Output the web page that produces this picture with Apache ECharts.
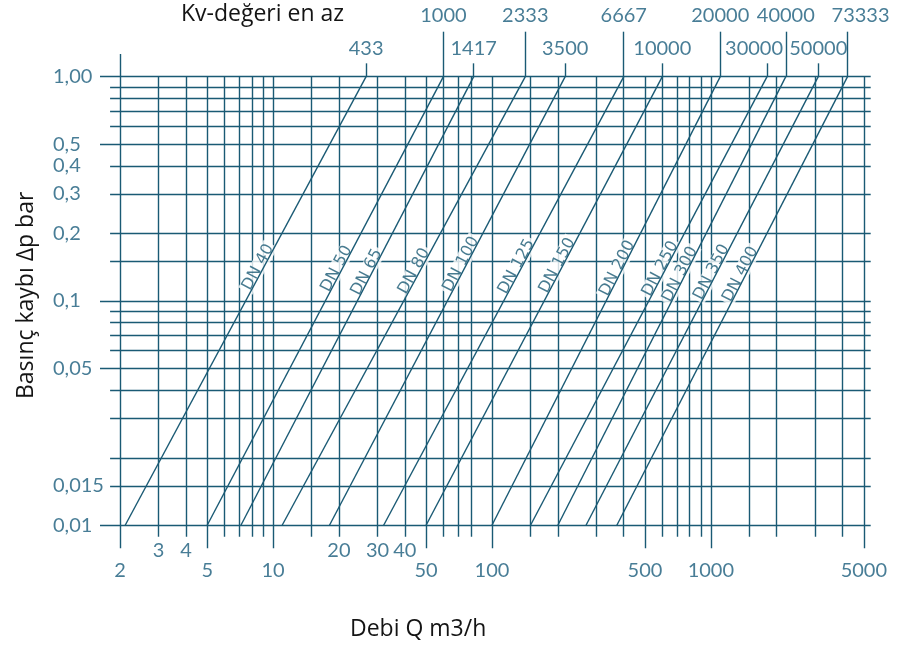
<!DOCTYPE html>
<html><head><meta charset="utf-8">
<script src="https://cdn.jsdelivr.net/npm/echarts@6/dist/echarts.min.js"></script>
<style>html,body{margin:0;padding:0;background:#fff}#c{width:904px;height:648px}</style>
</head><body><div id="c"></div>
<script>
// ---------- data ----------
const dnNames = ['DN 40','DN 50','DN 65','DN 80','DN 100','DN 125','DN 150','DN 200','DN 250','DN 300','DN 350','DN 400'];
const kvValues = [433,1000,1417,2333,3500,6667,10000,20000,30000,40000,50000,73333];
const qAtMinDp = [2.11,5,7.13,11,18.1,32,50,100,150,200,269,372];        // Q (m3/h) at Δp = 0.01 bar
const qAtMaxDp = [26.6,60,82.5,142,216,400,600,1104,1806,2200,3095,4212]; // Q (m3/h) at Δp = 1 bar
const dpMin = 0.01, dpMax = 1;
const xGridValues = [2,3,4,5,6,7,8,9,10,15,20,30,40,50,60,70,80,100,150,200,300,400,500,600,700,800,900,1000,1500,2000,3000,4000,5000];
const xGridLong = [2,5,10,50,100,500,1000,5000];
const yGridValues = [1,0.9,0.8,0.7,0.6,0.5,0.4,0.3,0.2,0.15,0.1,0.09,0.08,0.07,0.06,0.05,0.04,0.03,0.02,0.015,0.01];
const yGridLong = [1,0.5,0.1,0.05,0.01];
const xTickValues = [2,3,4,5,10,20,30,40,50,100,500,1000,5000];
const xTickUpperRow = [3,4,20,30,40];
const yTickValues = [1,0.5,0.4,0.3,0.2,0.1,0.05,0.015,0.01];
const yTickLabels = ['1,00','0,5','0,4','0,3','0,2','0,1','0,05','0,015','0,01'];
const kvUpperRow = [1000,2333,6667,20000,40000,73333];

// ---------- layout / style ----------
const X_MIN = 1.619, X_MAX = 5374, Y_MIN = 0.00768, Y_MAX = 1.587;
const G = {left:100, right:33.3, top:31.7, bottom:97};
const W = 904, H = 648;
const gridW = W - G.left - G.right, gridH = H - G.top - G.bottom;
const LINE = '#1a5a74', TEXT = '#1a5d7c', DARK = '#141414';
const NUM_FONT = 'Lato', NAME_FONT = 'Open Sans';
const vShortBottom = 0.0089, vLongBottom = 0.0079, vTopExtra = 1.262;
const hShortStart = 1.8;
const kvTickTopUpper = 1.587, kvTickTopLower = 1.147;
const kvLabelShift = {30000:-13, 73333:13};
const dnLabelAt = [0.150,0.148,0.143,0.144,0.155,0.151,0.153,0.149,0.148,0.140,0.143,0.140];
const lx = Math.log10;
const pxPerDecX = gridW / lx(X_MAX / X_MIN);
const pxPerDecY = gridH / lx(Y_MAX / Y_MIN);

// grid lines
const gridLines = [];
xGridValues.forEach(v => {
  const bottom = xGridLong.includes(v) ? vLongBottom : vShortBottom;
  const top = v === xGridValues[0] ? vTopExtra : dpMax;
  gridLines.push({coords: [[v, bottom], [v, top]]});
});
yGridValues.forEach(v => {
  const start = yGridLong.includes(v) ? X_MIN : hShortStart;
  gridLines.push({coords: [[start, v], [X_MAX, v]]});
});

const dnLines = dnNames.map((n, i) => ({coords: [[qAtMinDp[i], dpMin], [qAtMaxDp[i], dpMax]]}));
const kvTicks = kvValues.map((k, i) => ({coords: [[qAtMaxDp[i], dpMax], [qAtMaxDp[i], kvUpperRow.includes(k) ? kvTickTopUpper : kvTickTopLower]]}));

const kvLabelData = kvValues.map((k, i) => {
  const up = kvUpperRow.includes(k);
  return {value: [qAtMaxDp[i], up ? kvTickTopUpper : kvTickTopLower], name: String(k),
    label: {offset: [kvLabelShift[k] || 0, up ? -16 : -14.3]}};
});

const xLabelData = xTickValues.map(v => ({value: [v, Y_MIN], name: String(v),
  label: {offset: [0, xTickUpperRow.includes(v) ? 0 : 20]}}));

const yLabelData = yTickValues.map((v, i) => ({value: [X_MIN, v], name: yTickLabels[i]}));

const D = 10.5;
const dnLabelData = dnNames.map((n, i) => {
  const qb = qAtMinDp[i], qt = qAtMaxDp[i];
  const t = lx(dnLabelAt[i] / dpMin) / lx(dpMax / dpMin);
  const q = Math.pow(10, lx(qb) + t * lx(qt / qb));
  const ang = Math.atan2(pxPerDecY * lx(dpMax / dpMin), pxPerDecX * lx(qt / qb));
  return {value: [q, dnLabelAt[i]], name: n,
    label: {rotate: ang * 180 / Math.PI, offset: [-D * Math.sin(ang), -D * Math.cos(ang)]}};
});

const hidden = {color: 'rgba(0,0,0,0)'};
const textSeries = (data, extra) => ({
  type: 'scatter', data, symbolSize: 1, itemStyle: hidden, silent: true, clip: false, z: 4,
  label: Object.assign({show: true, position: 'inside', formatter: p => p.name,
    color: TEXT, fontFamily: NUM_FONT, fontSize: 20}, extra || {})
});

const chart = echarts.init(document.getElementById('c'), null, {renderer: 'canvas'});
chart.setOption({
  animation: false,
  backgroundColor: '#fff',
  title: [
    {text: 'Kv-değeri en az', left: 181, top: 3, padding: 0,
     textStyle: {fontFamily: NAME_FONT, fontSize: 23, fontWeight: 'normal', color: DARK}},
    {text: 'Debi Q m3/h', left: 350, top: 618, padding: 0,
     textStyle: {fontFamily: NAME_FONT, fontSize: 23, fontWeight: 'normal', color: DARK}}
  ],
  grid: {left: G.left, right: G.right, top: G.top, bottom: G.bottom, containLabel: false, outerBoundsMode: 'none'},
  xAxis: {type: 'log', logBase: 10, min: X_MIN, max: X_MAX,
    axisLine: {show: false}, axisTick: {show: false}, axisLabel: {show: false}, splitLine: {show: false}},
  yAxis: {type: 'log', logBase: 10, min: Y_MIN, max: Y_MAX,
    axisLine: {show: false}, axisTick: {show: false}, axisLabel: {show: false}, splitLine: {show: false},
    name: 'Basınç kaybı Δp bar', nameLocation: 'middle', nameRotate: 90, nameGap: 62,
    nameTextStyle: {fontFamily: NAME_FONT, fontSize: 23, color: DARK, padding: [0, 8, 0, 0]}},
  series: [
    {type: 'lines', coordinateSystem: 'cartesian2d', data: gridLines, silent: true, clip: false, z: 1,
     lineStyle: {color: LINE, width: 1.4, opacity: 1, curveness: 0}},
    textSeries(dnLabelData, {fontFamily: 'DejaVu Sans', fontSize: 16, color: LINE, backgroundColor: '#fff', padding: [0, 2], z: 2}),
    {type: 'lines', coordinateSystem: 'cartesian2d', data: dnLines, silent: true, clip: false, z: 5,
     lineStyle: {color: LINE, width: 1.4, opacity: 1, curveness: 0}},
    {type: 'lines', coordinateSystem: 'cartesian2d', data: kvTicks, silent: true, clip: false, z: 5,
     lineStyle: {color: LINE, width: 1.4, opacity: 1, curveness: 0}},
    textSeries(kvLabelData),
    textSeries(xLabelData),
    textSeries(yLabelData, {align: 'left', offset: [-47, 0]})
  ]
});
</script></body></html>
